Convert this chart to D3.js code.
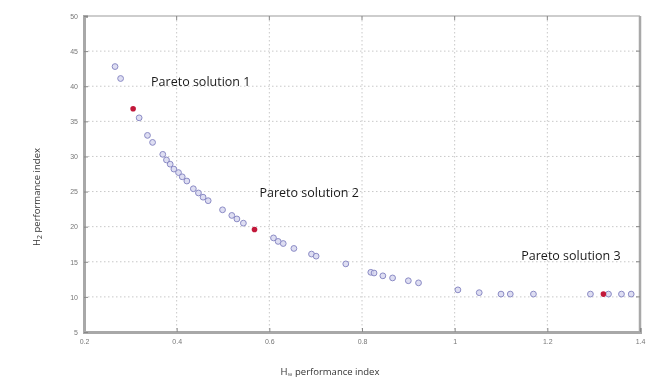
<!DOCTYPE html>
<html>
<head>
<meta charset="utf-8">
<script src="https://cdn.jsdelivr.net/npm/d3@7"></script>
<style>
  body { margin: 0; background: #fff; }
  svg { display: block; filter: blur(0.45px); }
  .grid line { stroke: #c8c8c8; stroke-dasharray: 1.5 2.5; }
  .tick-label { font-family: "Liberation Sans", Arial, sans-serif; font-size: 7px; fill: #777; }
  .ann { font-family: "Open Sans", "Liberation Sans", sans-serif; font-size: 12.5px; fill: #1a1a1a; }
  .axis-title { font-family: "Open Sans", "Liberation Sans", sans-serif; font-size: 9.5px; fill: #333; }
</style>
</head>
<body>
<svg id="chart" width="648" height="379"></svg>
<script>
// pareto front points (H_inf index, H2 index)
const hinf = [0.267, 0.279, 0.319, 0.337, 0.348, 0.370, 0.378, 0.386, 0.394, 0.404, 0.412, 0.422,
  0.436, 0.447, 0.457, 0.468, 0.499, 0.519, 0.530, 0.544, 0.609, 0.619, 0.630, 0.653, 0.691, 0.701,
  0.765, 0.819, 0.826, 0.845, 0.866, 0.900, 0.922, 1.007, 1.053, 1.100, 1.120, 1.170, 1.293, 1.332,
  1.360, 1.381];
const h2 = [42.8, 41.1, 35.5, 33.0, 32.0, 30.3, 29.5, 28.9, 28.2, 27.7, 27.1, 26.5,
  25.4, 24.8, 24.2, 23.7, 22.4, 21.6, 21.1, 20.5, 18.4, 17.9, 17.6, 16.9, 16.1, 15.8,
  14.7, 13.5, 13.4, 13.0, 12.7, 12.3, 12.0, 11.0, 10.6, 10.4, 10.4, 10.4, 10.4, 10.4,
  10.4, 10.4];

// highlighted solutions
const paretoNames = ['Pareto solution 1', 'Pareto solution 2', 'Pareto solution 3'];
const paretoHinf = [0.306, 0.568, 1.321];
const paretoH2 = [36.8, 19.6, 10.4];
// where each annotation sits (data coords, text centre)
const labelHinf = [0.452, 0.686, 1.251];
const labelH2 = [40.6, 24.9, 15.9];

const xTicks = [0.2, 0.4, 0.6, 0.8, 1, 1.2, 1.4];
const yTicks = [5, 10, 15, 20, 25, 30, 35, 40, 45, 50];

const svg = d3.select('#chart');
const margin = { left: 84, right: 8, top: 16, bottom: 47 };
const width = 648, height = 379;

const x = d3.scaleLinear().domain([0.2, 1.4]).range([margin.left, width - margin.right]);
const y = d3.scaleLinear().domain([5, 50]).range([height - margin.bottom, margin.top]);

// grid
const grid = svg.append('g').attr('class', 'grid');
grid.selectAll('.gx').data(xTicks.slice(1, -1)).enter().append('line')
  .attr('x1', d => x(d)).attr('x2', d => x(d))
  .attr('y1', y(50)).attr('y2', y(5));
grid.selectAll('.gy').data(yTicks.slice(1, -1)).enter().append('line')
  .attr('x1', x(0.2)).attr('x2', x(1.4))
  .attr('y1', d => y(d)).attr('y2', d => y(d));

// frame
svg.append('line').attr('x1', x(0.2)).attr('x2', x(1.4)).attr('y1', y(50)).attr('y2', y(50))
  .attr('stroke', '#bdbdbd').attr('stroke-width', 1.5);
svg.append('line').attr('x1', x(1.4)).attr('x2', x(1.4)).attr('y1', y(50)).attr('y2', y(5))
  .attr('stroke', '#a8a8a8').attr('stroke-width', 2.5);

// axes
const xAxis = svg.append('g').attr('transform', `translate(0,${y(5)})`)
  .call(d3.axisBottom(x).tickValues(xTicks).tickFormat(d3.format('~g')).tickSize(-4).tickPadding(7));
const yAxis = svg.append('g').attr('transform', `translate(${x(0.2)},0)`)
  .call(d3.axisLeft(y).tickValues(yTicks).tickSize(-4).tickPadding(6));
[xAxis, yAxis].forEach(a => {
  a.select('.domain').attr('stroke', '#a8a8a8').attr('stroke-width', 3);
  a.selectAll('.tick line').attr('stroke', '#888');
  a.selectAll('.tick text').attr('class', 'tick-label');
});
// mirrored ticks on top and right
svg.append('g').selectAll('line').data(xTicks.slice(1, -1)).enter().append('line')
  .attr('x1', d => x(d)).attr('x2', d => x(d)).attr('y1', y(50)).attr('y2', y(50) + 4).attr('stroke', '#888');
svg.append('g').selectAll('line').data(yTicks.slice(1, -1)).enter().append('line')
  .attr('x1', x(1.4) - 4).attr('x2', x(1.4)).attr('y1', d => y(d)).attr('y2', d => y(d)).attr('stroke', '#888');

// points
svg.append('g').selectAll('circle').data(hinf).enter().append('circle')
  .attr('cx', d => x(d)).attr('cy', (d, i) => y(h2[i])).attr('r', 2.9)
  .attr('fill', '#d6d6ef').attr('fill-opacity', 0.8)
  .attr('stroke', '#8a8ac4').attr('stroke-width', 1);

svg.append('g').selectAll('circle').data(paretoHinf).enter().append('circle')
  .attr('cx', d => x(d)).attr('cy', (d, i) => y(paretoH2[i])).attr('r', 2.8)
  .attr('fill', '#c2183a');

// annotations
svg.append('g').selectAll('text').data(paretoNames).enter().append('text')
  .attr('class', 'ann').attr('text-anchor', 'middle')
  .attr('x', (d, i) => x(labelHinf[i])).attr('y', (d, i) => y(labelH2[i]))
  .attr('dy', '0.35em').text(d => d);

// axis titles
const xt = svg.append('text').attr('class', 'axis-title').attr('text-anchor', 'middle')
  .attr('x', 330).attr('y', 375);
xt.append('tspan').text('H');
xt.append('tspan').attr('dy', 2).attr('font-size', '7px').text('∞');
xt.append('tspan').attr('dy', -2).text(' performance index');

const yt = svg.append('text').attr('class', 'axis-title').attr('text-anchor', 'middle')
  .attr('transform', 'translate(40,197) rotate(-90)');
yt.append('tspan').text('H');
yt.append('tspan').attr('dy', 2).attr('font-size', '7px').text('2');
yt.append('tspan').attr('dy', -2).text(' performance index');
</script>
</body>
</html>
